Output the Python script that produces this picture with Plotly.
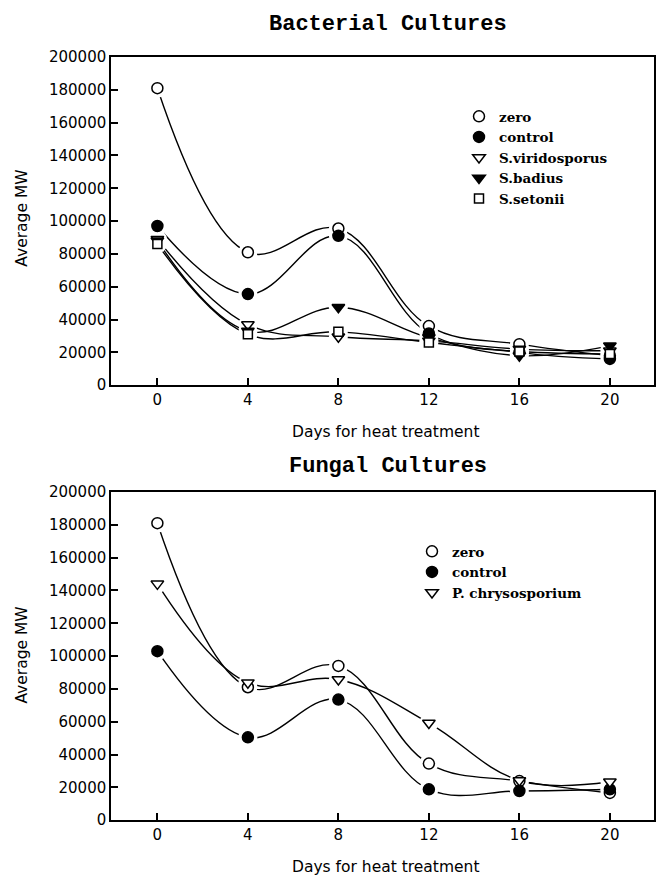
import plotly.graph_objects as go

# ---------------- data ----------------
days = [0, 4, 8, 12, 16, 20]
x_ticks = [0, 4, 8, 12, 16, 20]
y_ticks = [0, 20000, 40000, 60000, 80000, 100000, 120000, 140000, 160000, 180000, 200000]

bact_zero = [181000, 81000, 95500, 36000, 25000, 18000]
bact_control = [97000, 55500, 91000, 31500, 20000, 16000]
bact_viridosporus = [89000, 37000, 29500, 27000, 22000, 21000]
bact_badius = [88000, 33000, 47500, 29000, 18000, 24000]
bact_setonii = [86000, 31000, 32500, 26000, 20500, 19000]

fung_zero = [181000, 81000, 94000, 34500, 23800, 16600]
fung_control = [103000, 50500, 73500, 18800, 17800, 18800]
fung_chryso = [144000, 83800, 85700, 59200, 24200, 23400]

W, H = 659, 886


def px(x):
    return x / W


def py(y):
    return 1 - y / H


bact_series = [
    ("zero", bact_zero, "circle", "white"),
    ("control", bact_control, "circle", "black"),
    ("S.viridosporus", bact_viridosporus, "triangle-down", "white"),
    ("S.badius", bact_badius, "triangle-down", "black"),
    ("S.setonii", bact_setonii, "square", "white"),
]
fung_series = [
    ("zero", fung_zero, "circle", "white"),
    ("control", fung_control, "circle", "black"),
    ("P. chrysosporium", fung_chryso, "triangle-down", "white"),
]

fig = go.Figure()


def add_panel(series, xa, ya, legend):
    for name, vals, sym, fill in series:
        fig.add_trace(go.Scatter(
            x=days, y=vals, mode="lines", xaxis=xa, yaxis=ya,
            line=dict(color="black", width=1.4, shape="spline", smoothing=1.1),
            showlegend=False, hoverinfo="skip"))
    for name, vals, sym, fill in series:
        fig.add_trace(go.Scatter(
            x=days, y=vals, mode="markers", xaxis=xa, yaxis=ya,
            marker=dict(symbol="circle", size=19, color="white", line=dict(width=0)),
            showlegend=False, hoverinfo="skip"))
    for name, vals, sym, fill in series:
        size = 11 if sym != "square" else 9
        fig.add_trace(go.Scatter(
            x=days, y=vals, mode="markers", name=name, xaxis=xa, yaxis=ya,
            legend=legend,
            marker=dict(symbol=sym, size=size, color=fill,
                        line=dict(color="black", width=1.5))))


add_panel(bact_series, "x", "y", "legend")
add_panel(fung_series, "x2", "y2", "legend2")

xdom = [px(111), px(654)]
top_dom = [py(384), py(49)]
bot_dom = [py(828), py(493)]

axis_common = dict(
    showline=True, linecolor="black", linewidth=1.5, mirror=True,
    ticks="inside", ticklen=7, tickwidth=1.5, tickcolor="black",
    showgrid=False, zeroline=False,
    tickfont=dict(family="DejaVu Sans", size=15, color="black"),
)

xaxis_cfg = dict(axis_common, range=[-2.05, 21.95], tickvals=x_ticks, domain=xdom)
yaxis_cfg = dict(axis_common, range=[0, 200000], tickvals=y_ticks, tickformat="d")

legend_font = dict(family="DejaVu Serif", size=13.5, color="black", weight="bold")

fig.update_layout(
    width=W, height=H,
    margin=dict(l=0, r=0, t=0, b=0),
    paper_bgcolor="white", plot_bgcolor="white",
    xaxis=dict(xaxis_cfg, anchor="y"),
    yaxis=dict(yaxis_cfg, domain=top_dom, anchor="x"),
    xaxis2=dict(xaxis_cfg, anchor="y2"),
    yaxis2=dict(yaxis_cfg, domain=bot_dom, anchor="x2"),
    legend=dict(x=px(459), y=py(94), xanchor="left", yanchor="top",
                font=legend_font, bgcolor="rgba(0,0,0,0)", tracegroupgap=0),
    legend2=dict(x=px(412), y=py(538), xanchor="left", yanchor="top",
                 font=legend_font, bgcolor="rgba(0,0,0,0)", tracegroupgap=0),
    showlegend=True,
)

title_font = dict(family="Liberation Mono", size=22, color="black", weight="bold")
label_font = dict(family="DejaVu Sans", size=15.5, color="black")

annotations = [
    dict(text="Bacterial Cultures", x=px(388), y=py(16), font=title_font),
    dict(text="Fungal Cultures", x=px(388), y=py(467), font=title_font),
    dict(text="Days for heat treatment", x=px(385), y=py(432), font=label_font),
    dict(text="Days for heat treatment", x=px(385), y=py(876), font=label_font),
    dict(text="Average MW", x=px(22), y=py(214), font=label_font, textangle=-90),
    dict(text="Average MW", x=px(22), y=py(660), font=label_font, textangle=-90),
]
for a in annotations:
    fig.add_annotation(xref="paper", yref="paper", xanchor="center", yanchor="middle",
                       showarrow=False, **a)

# make the page exactly the size of the figure (no body margin, no extra line box)
page_fix = """
document.documentElement.style.margin='0';
document.documentElement.style.padding='0';
document.documentElement.style.overflow='hidden';
document.body.style.margin='0';
document.body.style.padding='0';
document.body.style.overflow='hidden';
document.body.style.height='886px';
document.body.style.lineHeight='0';
var sc = document.querySelectorAll('.svg-container');
for (var i = 0; i < sc.length; i++) { sc[i].style.display = 'block'; }
"""
fig.write_html("out.html", config={"displayModeBar": False}, post_script=page_fix)
